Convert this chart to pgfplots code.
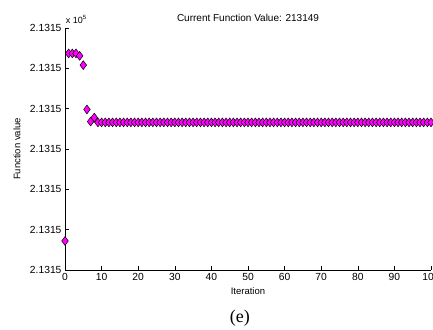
\documentclass[border=0pt]{standalone}
\usepackage{fontspec}
\setmainfont{Liberation Sans}
\newfontfamily\captionfont{Liberation Serif}
\usepackage{pgfplots}
\pgfplotsset{compat=1.18}
\definecolor{mkfill}{RGB}{255,0,255}

% Function value per iteration (in units of the y tick step)
\pgfplotstableread{
it val
0 0.72
1 5.37
2 5.37
3 5.37
4 5.31
5 5.08
6 3.98
7 3.68
8 3.78
9 3.66
10 3.66
11 3.66
12 3.66
13 3.66
14 3.66
15 3.66
16 3.66
17 3.66
18 3.66
19 3.66
20 3.66
21 3.66
22 3.66
23 3.66
24 3.66
25 3.66
26 3.66
27 3.66
28 3.66
29 3.66
30 3.66
31 3.66
32 3.66
33 3.66
34 3.66
35 3.66
36 3.66
37 3.66
38 3.66
39 3.66
40 3.66
41 3.66
42 3.66
43 3.66
44 3.66
45 3.66
46 3.66
47 3.66
48 3.66
49 3.66
50 3.66
51 3.66
52 3.66
53 3.66
54 3.66
55 3.66
56 3.66
57 3.66
58 3.66
59 3.66
60 3.66
61 3.66
62 3.66
63 3.66
64 3.66
65 3.66
66 3.66
67 3.66
68 3.66
69 3.66
70 3.66
71 3.66
72 3.66
73 3.66
74 3.66
75 3.66
76 3.66
77 3.66
78 3.66
79 3.66
80 3.66
81 3.66
82 3.66
83 3.66
84 3.66
85 3.66
86 3.66
87 3.66
88 3.66
89 3.66
90 3.66
91 3.66
92 3.66
93 3.66
94 3.66
95 3.66
96 3.66
97 3.66
98 3.66
99 3.66
100 3.66
}\fvals

\begin{document}
\begin{tikzpicture}
\begin{axis}[
  name=ax,
  scale only axis,
  width=366pt, height=242pt,
  xmin=0, xmax=100, ymin=0, ymax=6,
  axis x line*=bottom, axis y line*=left,
  axis line style={line width=0.8pt, -},
  xtick={0,10,...,100},
  ytick={0,1,...,6},
  yticklabels={2.1315,2.1315,2.1315,2.1315,2.1315,2.1315,2.1315},
  tick align=inside,
  major tick length=4pt,
  tick style={black, line width=0.6pt},
  /pgf/number format/assume math mode=true,
  ticklabel style={font=\fontsize{10.3}{12}\selectfont},
  every axis x label/.style={at={(axis description cs:0.5,-0.087)}, anchor=center},
  every axis y label/.style={at={(axis description cs:-0.131,0.5)}, rotate=90, anchor=center},
  xlabel={Iteration},
  ylabel={Function value},
  label style={font=\fontsize{9.5}{11}\selectfont},
  title={Current Function Value: 213149},
  title style={at={(axis description cs:0.5,1)}, anchor=center, yshift=4pt, font=\fontsize{10}{12}\selectfont},
  clip=false,
]
\addplot[only marks, mark=diamond*, mark size=4.4pt,
  mark options={fill=mkfill, draw=black, line width=0.5pt}]
  table[x=it, y=val] {\fvals};
\node[anchor=south west, inner sep=0pt, font=\fontsize{9}{10}\selectfont]
  at (axis description cs:0.002,1.018) {x 10\textsuperscript{5}};
\node[font=\captionfont\fontsize{18}{21}\selectfont, anchor=center]
  at (axis description cs:0.478,-0.198) {(e)};
\end{axis}
\pgfresetboundingbox
\useasboundingbox ([shift={(-65pt,-59pt)}]ax.south west) rectangle ([shift={(368pt,270pt)}]ax.south west);
\end{tikzpicture}
\end{document}
